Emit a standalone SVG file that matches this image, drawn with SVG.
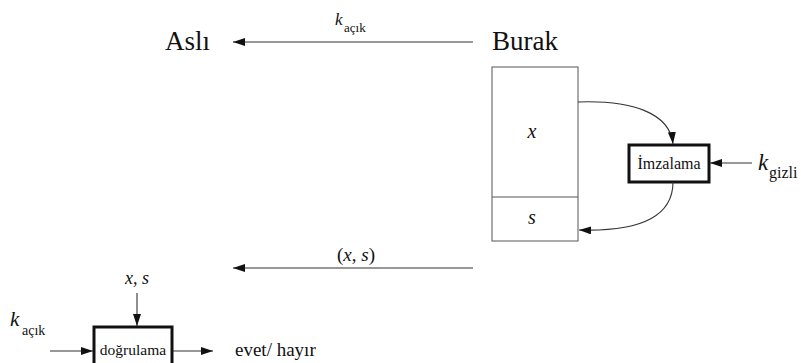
<svg xmlns="http://www.w3.org/2000/svg" width="801" height="363" viewBox="0 0 801 363">
<defs>
<style>
.t{font-family:'Liberation Serif','DejaVu Serif',serif;fill:#111}
.i{font-style:italic}
.ln{stroke:#333;stroke-width:1.1;fill:none}
.box{fill:#fff;stroke:#111;stroke-width:3}
.thin{fill:#fff;stroke:#555;stroke-width:1}
</style>
<marker id="ah" viewBox="0 0 12 8" refX="12" refY="4" markerWidth="12" markerHeight="8" markerUnits="userSpaceOnUse" orient="auto">
<path d="M0,0 L12,4 L0,8 Z" fill="#111"/>
</marker>
</defs>
<rect width="801" height="363" fill="#fff"/>
<g id="asli"><text class="t" x="165" y="50" font-size="27">Aslı</text></g>
<g id="burak"><text class="t" x="492" y="50" font-size="27">Burak</text></g>
<g id="message">
<rect class="thin" x="492" y="67" width="86" height="174"/>
<line x1="492" y1="197" x2="578" y2="197" stroke="#555" stroke-width="1"/>
<text class="t i" x="532" y="138" font-size="20" text-anchor="middle">x</text>
<text class="t i" x="532" y="224" font-size="20" text-anchor="middle">s</text>
</g>
<g id="imzalama">
<rect class="box" x="629" y="145" width="80" height="37"/>
<text class="t" x="669" y="169" font-size="16" text-anchor="middle">İmzalama</text>
</g>
<g id="kgizli"><text class="t i" x="758" y="170" font-size="23">k</text><text class="t" x="769" y="178" font-size="16">gizli</text></g>
<g id="kacik-top"><text class="t i" x="335" y="25" font-size="17">k</text><text class="t" x="344" y="32" font-size="13">açık</text></g>
<g id="xs-label"><text class="t" x="356" y="261" font-size="19" text-anchor="middle">(<tspan font-style="italic">x</tspan>, <tspan font-style="italic">s</tspan>)</text></g>
<g id="dogrulama">
<rect class="box" x="94" y="327" width="78" height="40"/>
<text class="t" x="133" y="355" font-size="15.5" text-anchor="middle">doğrulama</text>
</g>
<g id="xs-input"><text class="t i" x="137" y="284" font-size="18" text-anchor="middle">x, s</text></g>
<g id="kacik-bottom"><text class="t i" x="10" y="326" font-size="21">k</text><text class="t" x="22" y="335" font-size="14">açık</text></g>
<g id="result"><text class="t" x="235" y="356" font-size="19">evet/ hayır</text></g>
<g id="connectors">
<line class="ln" x1="473" y1="42" x2="233" y2="42" marker-end="url(#ah)"/>
<line class="ln" x1="473" y1="268" x2="233" y2="268" marker-end="url(#ah)"/>
<path class="ln" d="M578,102 C632,100 670,113 673,144" marker-end="url(#ah)"/>
<path class="ln" d="M673,182 C673,214 645,232 579,230" marker-end="url(#ah)"/>
<line class="ln" x1="752" y1="163" x2="710" y2="163" marker-end="url(#ah)"/>
<line class="ln" x1="137" y1="293" x2="137" y2="326" marker-end="url(#ah)"/>
<line class="ln" x1="50" y1="351" x2="93" y2="351" marker-end="url(#ah)"/>
<line class="ln" x1="173" y1="351" x2="213" y2="351" marker-end="url(#ah)"/>
</g>
</svg>
